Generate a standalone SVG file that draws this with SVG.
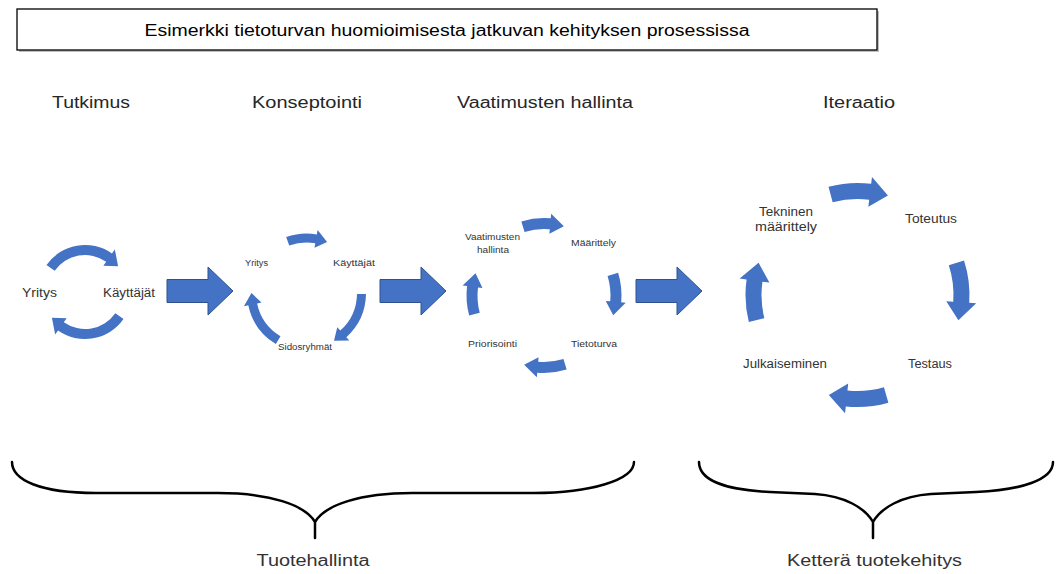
<svg xmlns="http://www.w3.org/2000/svg" xmlns:xlink="http://www.w3.org/1999/xlink" width="1056" height="574" viewBox="0 0 1056 574">
  <style>
    text { font-family: "Liberation Sans", Arial, sans-serif; fill: #262626; text-anchor: middle; }
    .title { font-size: 16px; fill: #000; }
    .phase { font-size: 16px; }
    .lbl-l { font-size: 12px; fill: #333; }
    .lbl-s { font-size: 8.5px; fill: #333; }
    .group { font-size: 16px; fill: #333; }
    .cyc { fill: #4472C4; }
    .block { fill: #4472C4; stroke: #2F528F; stroke-width: 1; }
    .brace { fill: none; stroke: #000; stroke-width: 2.5; stroke-linecap: round; }
  </style>
  <defs>
    <!-- curved arrow segments, drawn clockwise from angle 0 around the origin -->
    <path id="arcT" d="M47,0 A47,47 0 0 1 0,47 L0,52 L-12.28,40.16 L0,32 L0,37 A37,37 0 0 0 37,0 Z"/>
    <path id="arcK1" d="M59.5,0 A59.5,59.5 0 0 1 51.53,29.75 L55.43,32 L40.87,36.8 L39.84,23 L43.73,25.25 A50.5,50.5 0 0 0 50.5,0 Z"/>
    <path id="arcK2" d="M59.5,0 A59.5,59.5 0 0 1 40.58,43.52 L43.65,46.81 L28.33,47.15 L31.37,33.64 L34.44,36.94 A50.5,50.5 0 0 0 50.5,0 Z"/>
    <path id="arcV" d="M77.5,0 A77.5,77.5 0 0 1 71.86,29.03 L76.03,30.72 L60.39,39.21 L57.49,23.23 L61.66,24.91 A66.5,66.5 0 0 0 66.5,0 Z"/>
    <path id="arcI" d="M112,0 A112,112 0 0 1 103.85,41.96 L110.34,44.58 L88.19,55.11 L82.52,33.34 L89.01,35.96 A96,96 0 0 0 96,0 Z"/>
    <path id="block" d="M0,-11.5 L41,-11.5 L41,-24 L66,0 L41,24 L41,11.5 L0,11.5 Z"/>
  </defs>

  <rect width="1056" height="574" fill="#fff"/>

  <!-- title -->
  <g id="title">
    <rect x="19" y="11" width="860" height="41" fill="#bfbfbf"/>
    <rect x="17" y="9" width="860" height="41" fill="#fff" stroke="#000" stroke-width="1.3"/>
    <text class="title" x="447" y="36" textLength="605" lengthAdjust="spacingAndGlyphs">Esimerkki tietoturvan huomioimisesta jatkuvan kehityksen prosessissa</text>
  </g>

  <!-- phase headings -->
  <g id="phases">
    <text class="phase" x="91" y="108" textLength="78" lengthAdjust="spacingAndGlyphs">Tutkimus</text>
    <text class="phase" x="307" y="108" textLength="110" lengthAdjust="spacingAndGlyphs">Konseptointi</text>
    <text class="phase" x="545" y="108" textLength="176" lengthAdjust="spacingAndGlyphs">Vaatimusten hallinta</text>
    <text class="phase" x="859" y="108" textLength="72" lengthAdjust="spacingAndGlyphs">Iteraatio</text>
  </g>

  <!-- Tutkimus cycle -->
  <g id="cycle-tutkimus">
    <use href="#arcT" class="cyc" transform="translate(85,292) rotate(-145)"/>
    <use href="#arcT" class="cyc" transform="translate(85,292) rotate(35)"/>
    <text class="lbl-l" x="39.5" y="297" textLength="35" lengthAdjust="spacingAndGlyphs">Yritys</text>
    <text class="lbl-l" x="129" y="297" textLength="52" lengthAdjust="spacingAndGlyphs">Käyttäjät</text>
  </g>

  <!-- Konseptointi cycle -->
  <g id="cycle-konseptointi">
    <use href="#arcK1" class="cyc" transform="translate(306.5,293) rotate(-110)"/>
    <use href="#arcK2" class="cyc" transform="translate(306.5,293) rotate(1)"/>
    <use href="#arcK2" class="cyc" transform="translate(306.5,293) rotate(121)"/>
    <text class="lbl-s" x="256.5" y="266" textLength="23" lengthAdjust="spacingAndGlyphs">Yritys</text>
    <text class="lbl-s" x="354" y="266" textLength="42" lengthAdjust="spacingAndGlyphs">Käyttäjät</text>
    <text class="lbl-s" x="305" y="350" textLength="54" lengthAdjust="spacingAndGlyphs">Sidosryhmät</text>
  </g>

  <!-- Vaatimusten hallinta cycle -->
  <g id="cycle-vaatimukset">
    <use href="#arcV" class="cyc" transform="translate(544,295.5) rotate(-107)"/>
    <use href="#arcV" class="cyc" transform="translate(544,295.5) rotate(-17)"/>
    <use href="#arcV" class="cyc" transform="translate(544,295.5) rotate(73)"/>
    <use href="#arcV" class="cyc" transform="translate(544,295.5) rotate(165)"/>
    <text class="lbl-s" x="492.5" y="240" textLength="55" lengthAdjust="spacingAndGlyphs">Vaatimusten</text>
    <text class="lbl-s" x="493" y="253" textLength="32" lengthAdjust="spacingAndGlyphs">hallinta</text>
    <text class="lbl-s" x="593.5" y="246" textLength="45" lengthAdjust="spacingAndGlyphs">Määrittely</text>
    <text class="lbl-s" x="492.5" y="347" textLength="49" lengthAdjust="spacingAndGlyphs">Priorisointi</text>
    <text class="lbl-s" x="594" y="347" textLength="46" lengthAdjust="spacingAndGlyphs">Tietoturva</text>
  </g>

  <!-- Iteraatio cycle -->
  <g id="cycle-iteraatio">
    <use href="#arcI" class="cyc" transform="translate(857.5,295) rotate(-105)"/>
    <use href="#arcI" class="cyc" transform="translate(857.5,295) rotate(-18)"/>
    <use href="#arcI" class="cyc" transform="translate(857.5,295) rotate(74)"/>
    <use href="#arcI" class="cyc" transform="translate(857.5,295) rotate(166)"/>
    <text class="lbl-l" x="786" y="216" textLength="54" lengthAdjust="spacingAndGlyphs">Tekninen</text>
    <text class="lbl-l" x="786" y="231" textLength="62" lengthAdjust="spacingAndGlyphs">määrittely</text>
    <text class="lbl-l" x="931" y="223" textLength="52" lengthAdjust="spacingAndGlyphs">Toteutus</text>
    <text class="lbl-l" x="930" y="368" textLength="44" lengthAdjust="spacingAndGlyphs">Testaus</text>
    <text class="lbl-l" x="785" y="368" textLength="84" lengthAdjust="spacingAndGlyphs">Julkaiseminen</text>
  </g>

  <!-- transitions between phases -->
  <g id="connectors">
    <use href="#block" class="block" transform="translate(167,291)"/>
    <use href="#block" class="block" transform="translate(380,291)"/>
    <use href="#block" class="block" transform="translate(636,291)"/>
  </g>

  <!-- grouping braces -->
  <g id="group-tuotehallinta">
    <path class="brace" d="M12,462 C12,480 40,493 96,493 L218,493 C270,493 305,505 315,522 L315,538 M315,522 C325,505 360,493 412,493 L534,493 C590,493 634,480 634,462"/>
    <text class="group" x="313" y="566" textLength="113" lengthAdjust="spacingAndGlyphs">Tuotehallinta</text>
  </g>
  <g id="group-ketteraa">
    <path class="brace" d="M699,462 C699,480 725,490 770,492 L815,494 C845,496 865,508 873,522 L873,538 M873,522 C881,508 901,496 931,494 L976,492 C1021,490 1053,480 1053,462"/>
    <text class="group" x="874.5" y="566" textLength="175" lengthAdjust="spacingAndGlyphs">Ketterä tuotekehitys</text>
  </g>
</svg>
